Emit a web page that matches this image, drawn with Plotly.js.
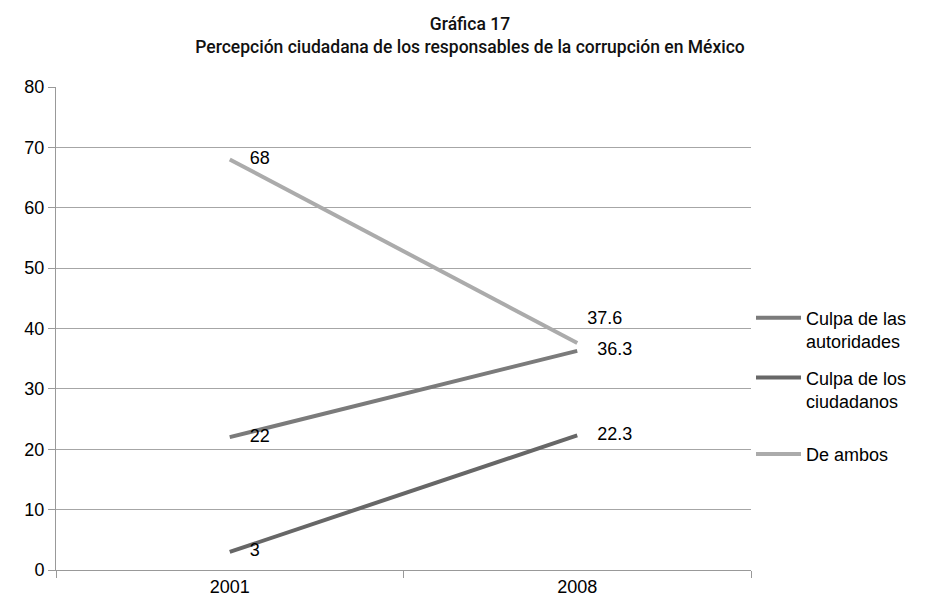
<!DOCTYPE html>
<html><head><meta charset="utf-8">
<script src="https://cdn.plot.ly/plotly-3.0.1.min.js"></script>
<style>html,body{margin:0;padding:0;background:#fff}</style>
</head><body>
<div id="chart" style="width:940px;height:608px"></div>
<script>
const years = ["2001", "2008"];
const autoridades = [22, 36.3];
const ciudadanos = [3, 22.3];
const ambos = [68, 37.6];
const seriesNames = ["Culpa de las<br>autoridades", "Culpa de los<br>ciudadanos", "De ambos"];
const yTicks = [0, 10, 20, 30, 40, 50, 60, 70, 80];
const titleLines = ["Gráfica 17", "Percepción ciudadana de los responsables de la corrupción en México"];

function lblFont() { return {family: "Liberation Sans, Arial, sans-serif", size: 18, color: "#000"}; }
const colors = ["#7b7b7b", "#676767", "#ababab"];
const series = [autoridades, ciudadanos, ambos];
const legends = ["legend", "legend2", "legend3"];
const templates = [["    %{y}", "    %{y}"], ["    %{y}", "    %{y}"], ["    %{y}", "  %{y}<br> <br> "]];

const data = series.map((y, i) => ({
  x: years, y: y, name: seriesNames[i], type: "scatter", mode: "lines+text",
  line: {color: colors[i], width: 4}, legend: legends[i],
  texttemplate: templates[i], textposition: "middle right", textfont: lblFont(), cliponaxis: false
}));

function legBase(y) {
  return {x: 1.0, xanchor: "left", y: y, yanchor: "top", valign: "top", font: lblFont(),
    itemwidth: 45, bgcolor: "rgba(0,0,0,0)"};
}
const layout = {
  width: 940, height: 608,
  margin: {l: 56, r: 189, t: 87, b: 38},
  paper_bgcolor: "#fff", plot_bgcolor: "#fff",
  title: {text: titleLines.join("<br>"),
    font: {family: "Roboto, Liberation Sans, sans-serif", size: 17.5, weight: 500, color: "#111"},
    x: 0.5, xanchor: "center", y: 0.95, yanchor: "top"},
  xaxis: {type: "category", range: [-0.5, 1.5], tickson: "boundaries", ticks: "outside", ticklen: 7,
    tickcolor: "#999", showline: true, linecolor: "#999", linewidth: 1, showgrid: false,
    zeroline: false, tickfont: lblFont()},
  yaxis: {range: [0, 80], tickvals: yTicks, ticks: "outside", ticklen: 7, tickcolor: "#999",
    showline: true, linecolor: "#999", linewidth: 1, showgrid: true, gridcolor: "#a6a6a6",
    gridwidth: 1, zeroline: false, tickfont: lblFont()},
  showlegend: true,
  legend: legBase(0.56),
  legend2: legBase(0.436),
  legend3: legBase(0.278)
};
Plotly.newPlot("chart", data, layout, {displayModeBar: false, staticPlot: true});
</script>
</body></html>
